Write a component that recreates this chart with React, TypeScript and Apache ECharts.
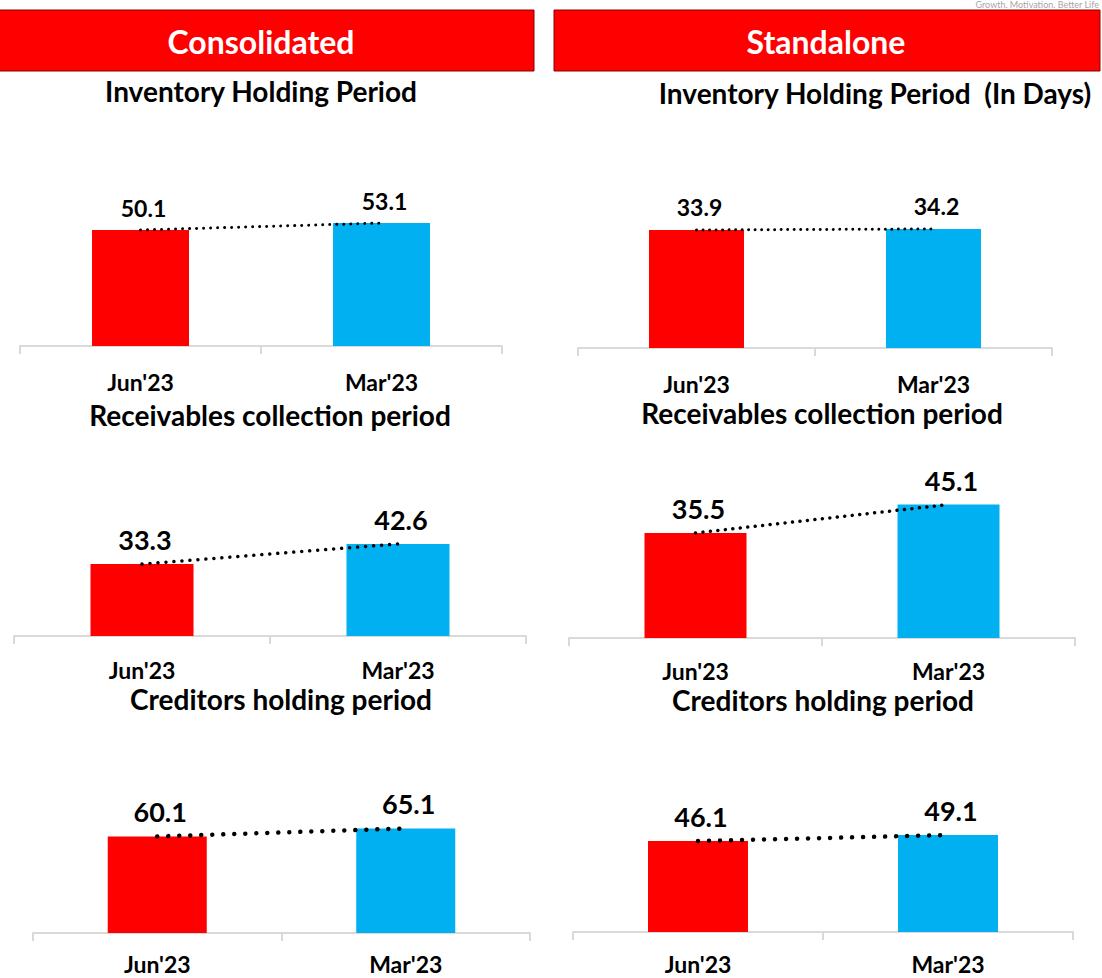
import React, { useEffect, useRef } from "react";
import * as echarts from "echarts";

const categories = ["Jun'23", "Mar'23"];
const inventoryConsolidated = [50.1, 53.1];
const inventoryStandalone = [33.9, 34.2];
const receivablesConsolidated = [33.3, 42.6];
const receivablesStandalone = [35.5, 45.1];
const creditorsConsolidated = [60.1, 65.1];
const creditorsStandalone = [46.1, 49.1];

const headerLabels = ["Consolidated", "Standalone"];
const tagline = "Growth. Motivation. Better Life";

const barColors = ["#FF0000", "#00B0F0"];
const FONT = "Lato, 'Open Sans', sans-serif";

// layout of each small chart (positions / styles only)
const panels = [
  { values: inventoryConsolidated, left: 20, width: 482, top: 196, height: 150, max: 64.8, barWidth: 97, labelSize: 23, dotWidth: 3, dotGap: 7, axisMargin: 24 },
  { values: inventoryStandalone, left: 578, width: 474, top: 198, height: 150, max: 43.09, barWidth: 95, labelSize: 23, dotWidth: 3, dotGap: 6.5, axisMargin: 24 },
  { values: receivablesConsolidated, left: 14, width: 512, top: 486, height: 150, max: 69.4, barWidth: 103, labelSize: 27, dotWidth: 3.5, dotGap: 8, axisMargin: 22 },
  { values: receivablesStandalone, left: 569, width: 506, top: 488, height: 150, max: 50.7, barWidth: 102, labelSize: 27, dotWidth: 3.5, dotGap: 7.5, axisMargin: 21 },
  { values: creditorsConsolidated, left: 33, width: 497, top: 783, height: 150, max: 93.4, barWidth: 99, labelSize: 27, dotWidth: 4.5, dotGap: 11, axisMargin: 19 },
  { values: creditorsStandalone, left: 573, width: 500, top: 782, height: 150, max: 76.0, barWidth: 100, labelSize: 27, dotWidth: 4.5, dotGap: 11, axisMargin: 20 },
];

const titles = [
  { text: "Inventory Holding Period", x: 261, y: 91 },
  { text: "Inventory Holding Period  (In Days)", x: 875, y: 93 },
  { text: "Receivables collection period", x: 270, y: 415 },
  { text: "Receivables collection period", x: 822, y: 413 },
  { text: "Creditors holding period", x: 281, y: 699 },
  { text: "Creditors holding period", x: 823, y: 700 },
];

export default function App() {
  const ref = useRef<HTMLDivElement>(null);

  useEffect(() => {
    if (!ref.current) return;
    const chart = echarts.init(ref.current, null, { renderer: "svg" });

    const grid = panels.map((p) => ({ left: p.left, top: p.top, width: p.width, height: p.height, containLabel: false }));
    const xAxis = panels.map((p, i) => ({
      type: "category",
      gridIndex: i,
      data: categories,
      boundaryGap: true,
      axisLine: { show: true, lineStyle: { color: "#D9D9D9", width: 2 } },
      axisTick: { show: true, length: 8, lineStyle: { color: "#D9D9D9", width: 2 } },
      axisLabel: { color: "#000", fontSize: 23, fontWeight: "bold", fontFamily: FONT, margin: p.axisMargin },
      splitLine: { show: false },
    }));
    const yAxis = panels.map((p, i) => ({
      type: "value",
      gridIndex: i,
      min: 0,
      max: p.max,
      show: false,
      splitLine: { show: false },
    }));

    const series: any[] = [];
    panels.forEach((p, i) => {
      series.push({
        type: "bar",
        xAxisIndex: i,
        yAxisIndex: i,
        barWidth: p.barWidth,
        data: p.values.map((v, k) => ({ value: v, itemStyle: { color: barColors[k] } })),
        label: {
          show: true,
          position: "top",
          distance: 11,
          offset: [3, 0],
          color: "#000",
          fontSize: p.labelSize,
          fontWeight: "bold",
          fontFamily: FONT,
          formatter: (d: any) => d.value.toFixed(1),
        },
        z: 2,
      });
      series.push({
        type: "line",
        xAxisIndex: i,
        yAxisIndex: i,
        data: p.values,
        symbol: "none",
        lineStyle: { color: "#000", width: p.dotWidth, type: [0.01, p.dotGap], cap: "round" },
        z: 3,
      });
    });

    const graphic: any[] = [
      {
        type: "text",
        x: 1099,
        y: 0,
        style: { text: tagline, fill: "#A6A6A6", font: `9px ${FONT}`, textAlign: "right", textVerticalAlign: "top" },
      },
      {
        type: "rect",
        shape: { x: -1, y: 10, width: 535, height: 61 },
        style: { fill: "#FF0000", stroke: "#8B0000", lineWidth: 1 },
      },
      {
        type: "rect",
        shape: { x: 554, y: 10, width: 546, height: 61 },
        style: { fill: "#FF0000", stroke: "#8B0000", lineWidth: 1 },
      },
      {
        type: "text",
        x: 261,
        y: 41,
        style: { text: headerLabels[0], fill: "#fff", font: `bold 32px ${FONT}`, textAlign: "center", textVerticalAlign: "middle" },
      },
      {
        type: "text",
        x: 826,
        y: 41,
        style: { text: headerLabels[1], fill: "#fff", font: `bold 32px ${FONT}`, textAlign: "center", textVerticalAlign: "middle" },
      },
      ...titles.map((t) => ({
        type: "text",
        x: t.x,
        y: t.y,
        style: { text: t.text, fill: "#000", font: `bold 28px ${FONT}`, textAlign: "center", textVerticalAlign: "middle" },
      })),
    ];

    chart.setOption({
      animation: false,
      backgroundColor: "#fff",
      grid,
      xAxis,
      yAxis,
      series,
      graphic,
    } as any);

    return () => chart.dispose();
  }, []);

  return <div ref={ref} style={{ position: "absolute", left: 0, top: 0, width: 1102, height: 978 }} />;
}
